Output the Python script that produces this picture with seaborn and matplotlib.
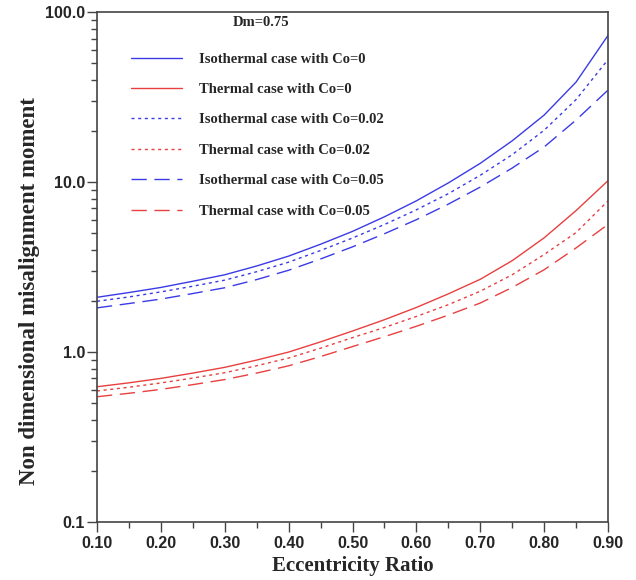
import numpy as np
import pandas as pd
import matplotlib
matplotlib.use("Agg")
import matplotlib.pyplot as plt
import matplotlib.ticker as mticker
import seaborn as sns

# Eccentricity ratio values
ecc = [0.10, 0.15, 0.20, 0.25, 0.30, 0.35, 0.40, 0.45, 0.50,
       0.55, 0.60, 0.65, 0.70, 0.75, 0.80, 0.85, 0.90]

# Non dimensional misalignment moment, Dm = 0.75
iso_co0 = [2.10, 2.24, 2.40, 2.61, 2.85, 3.21, 3.67, 4.31, 5.13,
           6.25, 7.76, 9.89, 12.9, 17.5, 24.8, 38.8, 73.0]
thermal_co0 = [0.625, 0.659, 0.70, 0.752, 0.813, 0.897, 1.00, 1.148, 1.33,
               1.55, 1.83, 2.20, 2.68, 3.45, 4.70, 6.80, 10.2]
iso_co002 = [1.99, 2.11, 2.26, 2.44, 2.65, 2.97, 3.38, 3.96, 4.69,
             5.63, 6.87, 8.55, 10.97, 14.5, 20.2, 30.6, 52.6]
thermal_co002 = [0.590, 0.621, 0.658, 0.703, 0.756, 0.831, 0.922, 1.054, 1.216,
                 1.395, 1.62, 1.90, 2.28, 2.85, 3.75, 5.05, 7.75]
iso_co005 = [1.82, 1.93, 2.05, 2.21, 2.39, 2.67, 3.03, 3.53, 4.16,
             4.97, 6.01, 7.42, 9.35, 12.1, 16.1, 23.2, 34.8]
thermal_co005 = [0.546, 0.572, 0.603, 0.643, 0.689, 0.752, 0.83, 0.941, 1.077,
                 1.232, 1.418, 1.65, 1.943, 2.40, 3.05, 4.10, 5.64]

labels = ["Isothermal case with Co=0", "Thermal case with Co=0",
          "Isothermal case with Co=0.02", "Thermal case with Co=0.02",
          "Isothermal case with Co=0.05", "Thermal case with Co=0.05"]
series = [iso_co0, thermal_co0, iso_co002, thermal_co002, iso_co005, thermal_co005]

x_ticks = [0.10, 0.20, 0.30, 0.40, 0.50, 0.60, 0.70, 0.80, 0.90]
y_ticks = [0.1, 1.0, 10.0, 100.0]
y_tick_labels = ["0.1", "1.0", "10.0", "100.0"]

blue = "#3b3be6"
red = "#e84040"
palette = dict(zip(labels, [blue, red, blue, red, blue, red]))
solid, dotted, dashed = "", (2.2, 2.6), (11, 5.5)
dashes = dict(zip(labels, [solid, solid, dotted, dotted, dashed, dashed]))

df = pd.DataFrame({
    "Eccentricity Ratio": np.tile(ecc, len(labels)),
    "moment": np.concatenate(series),
    "series": np.repeat(labels, len(ecc)),
})

sns.set_style("ticks")
fig = plt.figure(figsize=(6.36, 5.8), dpi=100)
ax = fig.add_axes([0.1525, 0.1, 0.8035, 0.879])

sns.lineplot(data=df, x="Eccentricity Ratio", y="moment", hue="series",
             style="series", hue_order=labels, style_order=labels,
             palette=palette, dashes=dashes, linewidth=1.0, ax=ax)

ax.set_yscale("log")
ax.set_xlim(0.1, 0.9)
ax.set_ylim(0.1, 100)

ax.set_xticks(x_ticks)
ax.set_xticklabels([f"{v:.2f}" for v in x_ticks])
ax.xaxis.set_minor_locator(mticker.MultipleLocator(0.05))
ax.set_yticks(y_ticks)
ax.set_yticklabels(y_tick_labels)
ax.yaxis.set_minor_locator(mticker.LogLocator(base=10, subs=np.arange(2, 10)))
ax.yaxis.set_minor_formatter(mticker.NullFormatter())

for lab in ax.get_xticklabels() + ax.get_yticklabels():
    lab.set_fontfamily("Liberation Sans")
    lab.set_fontweight("bold")
    lab.set_fontsize(11.5)

ax.tick_params(axis="both", which="major", direction="out", length=7,
               width=1.0, color="#444444", pad=3)
ax.tick_params(axis="y", which="major", pad=1.5)
ax.tick_params(axis="both", which="minor", direction="out", length=4.5,
               width=1.0, color="#444444")
for sp in ax.spines.values():
    sp.set_color("#444444")
    sp.set_linewidth(1.2)

ax.set_xlabel("Eccentricity Ratio", family="Liberation Serif", weight="bold",
              size=15, labelpad=4)
ax.set_ylabel("Non dimensional misalignment moment", family="Liberation Serif",
              weight="bold", size=16.5)
ax.yaxis.set_label_coords(-0.112, 0.453)

ax.text(0.265, 0.992, "Dm=0.75", transform=ax.transAxes, ha="left", va="top",
        family="Liberation Serif", weight="bold", fontsize=10.5)

ax.legend(loc="upper left", bbox_to_anchor=(0.066, 0.921), frameon=False,
          handlelength=3.5, handletextpad=1.15, labelspacing=1.18,
          borderaxespad=0, borderpad=0,
          prop=dict(family="Liberation Serif", weight="bold", size=10.5))

fig.savefig("out.png", dpi=100, facecolor="white")
